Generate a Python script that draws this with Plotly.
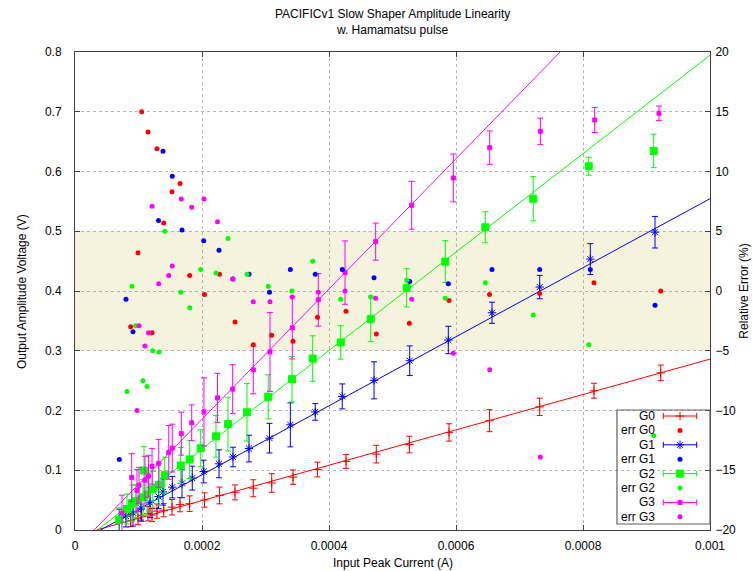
import plotly.graph_objects as go

# ---------------- data ----------------
g0_x = [0.0000877, 0.0000992, 0.0001050, 0.0001150, 0.0001213, 0.0001291, 0.0001397, 0.0001528, 0.0001654,
        0.0001806, 0.0002039, 0.0002276, 0.0002520, 0.0002808, 0.0003098, 0.0003433, 0.0003819, 0.0004268,
        0.0004745, 0.0005265, 0.0005890, 0.0006528, 0.0007318, 0.0008173, 0.0009224]
g0_y = [0.0155, 0.0200, 0.0243, 0.0273, 0.0250, 0.0316, 0.0332, 0.0382, 0.0425, 0.0441, 0.0502, 0.0578, 0.0630,
        0.0699, 0.0787, 0.0885, 0.1012, 0.1148, 0.1270, 0.1430, 0.1633, 0.1830, 0.2061, 0.2331, 0.2630]
g0_dy = [0.010, 0.011, 0.010, 0.012, 0.011, 0.012, 0.011, 0.013, 0.012, 0.013, 0.012, 0.014, 0.0125, 0.0142,
         0.0156, 0.012, 0.0123, 0.0117, 0.0147, 0.0139, 0.0145, 0.0184, 0.0145, 0.0125, 0.013]
g0_err = [-3.0, 3.2, 15.0, 13.3, -3.5, 11.9, 5.7, 8.3, 9.0, 1.3, -0.3, 1.4, -2.6, -4.5, -3.7, -4.2, -2.2, -1.7,
          -3.6, -2.7, -0.8, -0.3, -0.2, 0.7, 0.0]

g1_x = [0.0000698, 0.0000803, 0.0000913, 0.0001039, 0.0001181, 0.0001315, 0.0001386, 0.0001532, 0.0001685,
        0.0001847, 0.0002027, 0.0002268, 0.0002488, 0.0002740, 0.0003063, 0.0003391, 0.0003783, 0.0004209,
        0.0004709, 0.0005271, 0.0005879, 0.0006567, 0.0007318, 0.0008115, 0.0009134]
g1_y = [0.0148, 0.0231, 0.0286, 0.0365, 0.0458, 0.0560, 0.0636, 0.0717, 0.0780, 0.0868, 0.0979, 0.1108, 0.1222,
        0.1363, 0.1537, 0.1760, 0.1976, 0.2236, 0.2505, 0.2833, 0.3180, 0.3636, 0.4066, 0.4534, 0.4984]
g1_dy = [0.020, 0.018, 0.022, 0.020, 0.025, 0.020, 0.022, 0.018, 0.024, 0.020, 0.019, 0.0234, 0.0164, 0.0223,
         0.0248, 0.0368, 0.0139, 0.0209, 0.031, 0.0248, 0.0229, 0.0177, 0.0196, 0.0259, 0.0264]
g1_err = [-14.1, -0.7, -3.4, None, None, 5.9, 11.7, 9.6, 5.1, None, 4.2, 3.4, 1.0, 1.4, -0.1, 1.8, 1.4, 1.8,
          1.1, 0.8, 0.6, 1.8, 1.8, 1.8, -1.2]

g2_x = [0.0000693, 0.0000819, 0.0000898, 0.0000956, 0.0001071, 0.0001087, 0.0001134, 0.0001224, 0.0001323,
        0.0001413, 0.0001665, 0.0001806, 0.0001980, 0.0002220, 0.0002409, 0.0002709, 0.0003043, 0.0003417,
        0.0003743, 0.0004184, 0.0004657, 0.0005224, 0.0005831, 0.0006461, 0.0007217, 0.0008090, 0.0009113]
g2_y = [0.0171, 0.0352, 0.0451, 0.0483, 0.0548, 0.0996, 0.0593, 0.0682, 0.0759, 0.0918, 0.1080, 0.1181, 0.1368,
        0.1568, 0.1773, 0.1970, 0.2229, 0.2524, 0.2870, 0.3139, 0.3533, 0.4053, 0.4492, 0.5067, 0.5544, 0.6088,
        0.6344]
g2_dy = [0.020, 0.025, 0.030, 0.028, 0.030, 0.040, 0.035, 0.030, 0.035, 0.030, 0.030, 0.032, 0.031, 0.035,
         0.045, 0.048, 0.037, 0.038, 0.038, 0.028, 0.038, 0.032, 0.035, 0.026, 0.037, 0.015, 0.028]
g2_err = [None, -8.4, 0.4, -2.9, -7.5, None, -8.0, -5.0, -5.1, 5.0, -0.1, -1.4, 1.8, 1.5, 4.4, 1.4, 0.4, 0.0,
          2.5, -0.7, -0.5, 0.9, -0.6, 0.7, -2.0, -4.5, -12.1]

g3_x = [0.0000740, 0.0000893, 0.0000976, 0.0001008, 0.0001102, 0.0001157, 0.0001213, 0.0001318, 0.0001476,
        0.0001532, 0.0001674, 0.0001838, 0.0002031, 0.0002244, 0.0002483, 0.0002808, 0.0003071, 0.0003422,
        0.0003831, 0.0004252, 0.0004735, 0.0005302, 0.0005958, 0.0006531, 0.0007328, 0.0008184, 0.0009197]
g3_y = [0.0283, 0.0878, 0.0663, 0.0749, 0.0834, 0.0901, 0.1066, 0.1116, 0.1299, 0.1371, 0.1613, 0.1794, 0.1977,
        0.2212, 0.2357, 0.2680, 0.2981, 0.3383, 0.3852, 0.4308, 0.4826, 0.5435, 0.5892, 0.6399, 0.6673, 0.6862,
        0.6975]
g3_dy = [0.030, 0.040, 0.035, 0.030, 0.040, 0.035, 0.030, 0.040, 0.045, 0.040, 0.036, 0.030, 0.057, 0.041,
         0.041, 0.040, 0.066, 0.052, 0.044, 0.053, 0.031, 0.040, 0.040, 0.028, 0.022, 0.021, 0.012]
g3_err = [None, None, -10.0, -2.9, -4.6, -3.5, 7.1, 0.6, 1.3, 2.1, 7.7, 7.0, 7.7, 5.8, 1.0, -0.9, -0.9, -0.5,
          -0.1, 0.0, -0.6, -0.7, -5.2, -6.6, -13.9, None, None]

# linear fits: y = slope * (x - x0)
fit_slope = [295.9, 577.6, 823.6, 1090.0]
fit_x0 = [0.0000336, 0.0000400, 0.0000352, 0.0000300]

series_names = ["G0", "G1", "G2", "G3"]
x_ticks = [0, 0.0002, 0.0004, 0.0006, 0.0008, 0.001]
x_tick_text = ["0", "0.0002", "0.0004", "0.0006", "0.0008", "0.001"]

# ---------------- styles ----------------
FONT = "Liberation Sans, Arial, sans-serif"
colors = ["#ff0000", "#0000ff", "#00ff00", "#ff00ff"]
symbols = ["cross-thin-open", "asterisk-open", "square", "square"]
msizes = [6, 7, 7, 4]
XMAX = 0.001

data = [(g0_x, g0_y, g0_dy, g0_err), (g1_x, g1_y, g1_dy, g1_err),
        (g2_x, g2_y, g2_dy, g2_err), (g3_x, g3_y, g3_dy, g3_err)]

fig = go.Figure()

# fit lines
for i in range(4):
    x0 = fit_x0[i]
    fig.add_trace(go.Scatter(x=[x0, XMAX], y=[0, fit_slope[i] * (XMAX - x0)], mode="lines",
                             line=dict(color=colors[i], width=1), hoverinfo="skip", showlegend=False))

# data with error bars and relative errors
for i, (xs, ys, dys, errs) in enumerate(data):
    fig.add_trace(go.Scatter(
        x=xs, y=ys, mode="markers", showlegend=False,
        marker=dict(symbol=symbols[i], size=msizes[i], color=colors[i], line=dict(color=colors[i], width=1)),
        error_y=dict(type="data", array=dys, color=colors[i], thickness=1, width=3)))
for i, (xs, ys, dys, errs) in enumerate(data):
    fig.add_trace(go.Scatter(
        x=xs, y=errs, yaxis="y2", mode="markers", showlegend=False,
        marker=dict(symbol="circle", size=5, color=colors[i])))

# ---------------- custom gnuplot-style key (overlay axes in plot pixels) ----------------
row_y = [114, 99.6, 85.2, 70.8, 56.4, 42.0, 27.6, 13.2]
sample_x = 605
label_x = 582
for i in range(4):
    fig.add_trace(go.Scatter(
        x=[sample_x], y=[row_y[2 * i]], xaxis="x3", yaxis="y3", mode="markers", showlegend=False,
        marker=dict(symbol=symbols[i], size=msizes[i], color=colors[i], line=dict(color=colors[i], width=1)),
        error_x=dict(type="data", array=[16.7], color=colors[i], thickness=1, width=3), hoverinfo="skip"))
    fig.add_trace(go.Scatter(
        x=[sample_x], y=[row_y[2 * i + 1]], xaxis="x3", yaxis="y3", mode="markers", showlegend=False,
        marker=dict(symbol="circle", size=5, color=colors[i]), hoverinfo="skip"))

annotations = []
for i in range(4):
    for j, txt in enumerate([series_names[i], "err " + series_names[i]]):
        annotations.append(dict(x=label_x, y=row_y[2 * i + j], xref="x3", yref="y3", text=txt,
                                showarrow=False, xanchor="right", yanchor="middle",
                                font=dict(family=FONT, size=12, color="black")))

annotations += [
    dict(x=0.5, y=1.063, xref="paper", yref="paper", showarrow=False, xanchor="center", yanchor="middle",
         text="PACIFICv1 Slow Shaper Amplitude Linearity<br>w. Hamamatsu pulse",
         font=dict(family=FONT, size=12, color="black")),
    dict(x=-0.0835, y=0.5, xref="paper", yref="paper", showarrow=False, textangle=-90,
         xanchor="center", yanchor="middle", text="Output Amplitude Voltage (V)",
         font=dict(family=FONT, size=12, color="black")),
    dict(x=1.053, y=0.5, xref="paper", yref="paper", showarrow=False, textangle=-90,
         xanchor="center", yanchor="middle", text="Relative Error (%)",
         font=dict(family=FONT, size=12, color="black")),
    dict(x=0.5, y=-0.069, xref="paper", yref="paper", showarrow=False, xanchor="center", yanchor="middle",
         text="Input Peak Current (A)", font=dict(family=FONT, size=12, color="black")),
]

shapes = [
    # tolerance band 0.3 - 0.5 V
    dict(type="rect", xref="paper", yref="y", x0=0, x1=1, y0=0.3, y1=0.5,
         fillcolor="#f5f3dd", line=dict(width=0), layer="below"),
    # key box
    dict(type="rect", xref="paper", yref="paper", x0=0.8535, x1=1.0, y0=0.0126, y1=0.251,
         fillcolor="white", line=dict(width=0), layer="between"),
    dict(type="rect", xref="paper", yref="paper", x0=0.8535, x1=1.0, y0=0.0126, y1=0.251,
         fillcolor="rgba(0,0,0,0)", line=dict(color="#606060", width=1.2), layer="above"),
]

axis_common = dict(ticks="inside", ticklen=5, tickcolor="#404040", showline=True, linecolor="#404040",
                   linewidth=1, tickfont=dict(family=FONT, size=12, color="black"), zeroline=False)

# full-window figure; the page's default body margin is removed in post_script
fig.update_layout(
    width=753, height=571,
    margin=dict(l=75, r=43, t=52, b=41),
    paper_bgcolor="white", plot_bgcolor="white",
    showlegend=False,
    font=dict(family=FONT, size=12, color="black"),
    xaxis=dict(range=[0, XMAX], tickvals=x_ticks, ticktext=x_tick_text, mirror="ticks", ticklabelstandoff=5,
               showgrid=True, gridcolor="#b4b4b4", griddash="dot", gridwidth=1, **axis_common),
    yaxis=dict(range=[0, 0.8], dtick=0.1, mirror=True, ticklabelstandoff=10,
               showgrid=True, gridcolor="#b4b4b4", griddash="dot", gridwidth=1, **axis_common),
    yaxis2=dict(range=[-20, 20], dtick=5, overlaying="y", side="right", showgrid=False,
                ticklabelstandoff=2, **axis_common),
    xaxis3=dict(range=[0, 635], overlaying="x", visible=False),
    yaxis3=dict(range=[0, 478], overlaying="y", visible=False),
    annotations=annotations,
    shapes=shapes,
)

fig.write_html("out.html", config={"displayModeBar": False},
               post_script="document.body.style.margin='0';document.body.style.overflow='hidden';")
